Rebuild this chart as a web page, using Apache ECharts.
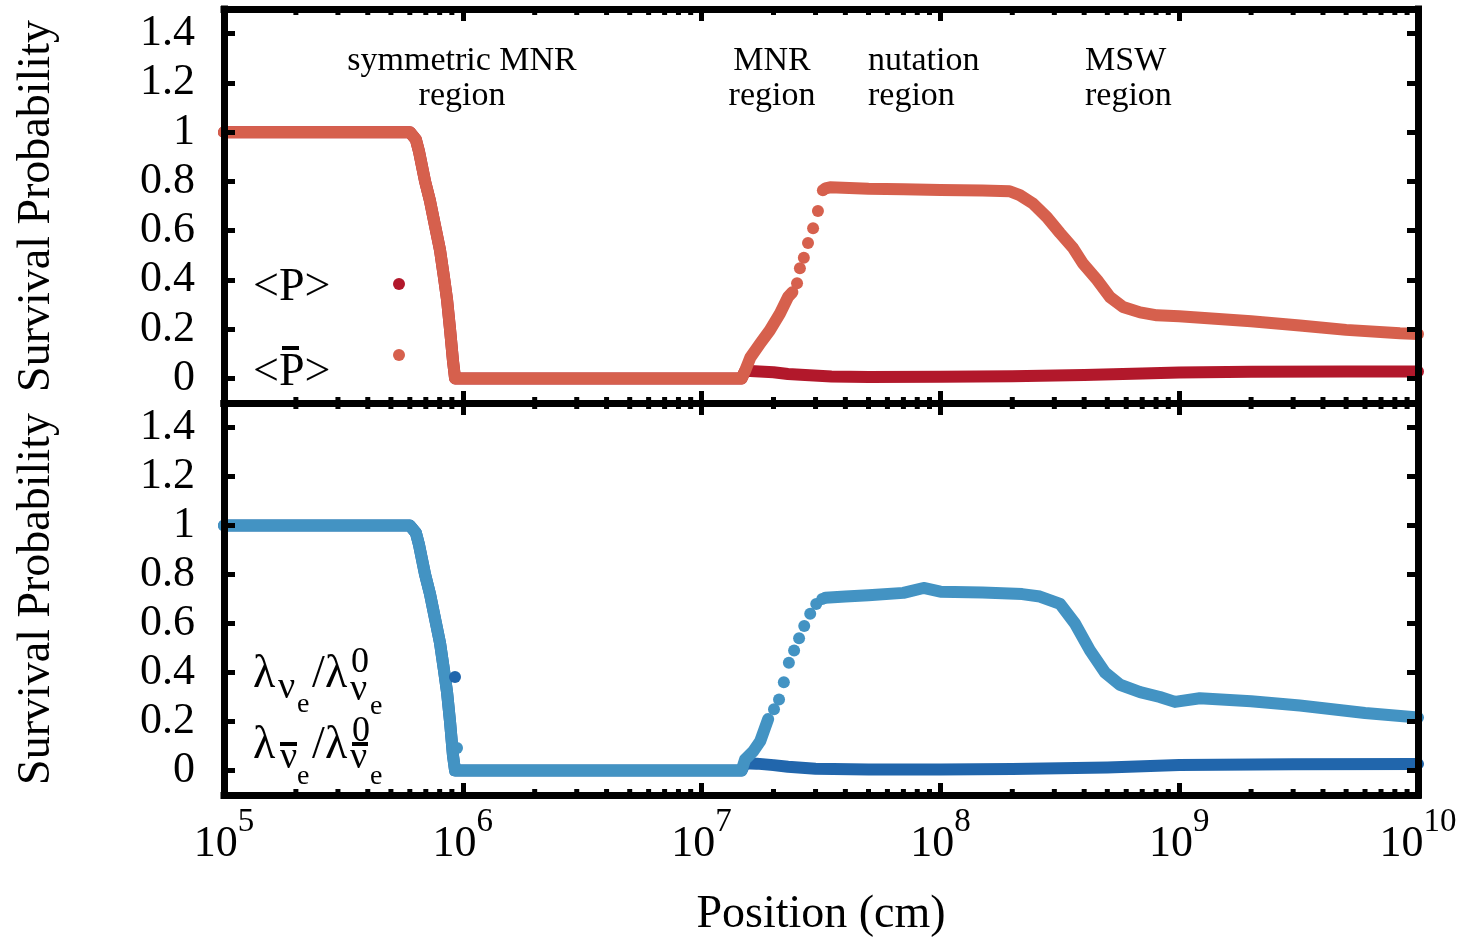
<!DOCTYPE html>
<html>
<head>
<meta charset="utf-8">
<script src="https://cdn.jsdelivr.net/npm/echarts@6/dist/echarts.min.js"></script>
<style>html,body{margin:0;padding:0;background:#fff}#c{width:1465px;height:937px}</style>
</head>
<body>
<div id="c"></div>
<script>
// ---------- data ----------
const xMajorTicks = [1e5, 1e6, 1e7, 1e8, 1e9, 1e10];
const yTicks = [0, 0.2, 0.4, 0.6, 0.8, 1.0, 1.2, 1.4];
const xMinorTicks = [];
for (let d = 5; d < 10; d++) for (let m = 2; m <= 9; m++) xMinorTicks.push(m * Math.pow(10, d));

// top panel: <P> (neutrino) and <P-bar> (antineutrino)
const pData = [[1e5,1],[6.0e5,1],[6.36e5,0.97],[6.56e5,0.92],[6.95e5,0.8],[7.29e5,0.72],[7.65e5,0.62],[8.03e5,0.52],[8.34e5,0.41],[8.59e5,0.32],[8.84e5,0.2],[9.1e5,0.07],[9.28e5,0],
  [1.47e7,0],[1.52e7,0.03],[1.6e7,0.03],[2.0e7,0.025],[2.3e7,0.018],[2.6e7,0.015],[3.5e7,0.008],[5e7,0.006],[1e8,0.007],[2e8,0.009],[4e8,0.014],[7e8,0.02],[1e9,0.024],[2e9,0.027],[5e9,0.028],[1e10,0.028]];
const pbarDenseA = [[1e5,1],[6.0e5,1],[6.36e5,0.97],[6.56e5,0.92],[6.95e5,0.8],[7.29e5,0.72],[7.65e5,0.62],[8.03e5,0.52],[8.34e5,0.41],[8.59e5,0.32],[8.84e5,0.2],[9.1e5,0.07],[9.28e5,0],
  [1.47e7,0],[1.52e7,0.03],[1.6e7,0.085],[1.76e7,0.142],[1.93e7,0.195],[2.13e7,0.264],[2.3e7,0.33],[2.4e7,0.35]];
const pbarSparse = [[2.51e7,0.386],[2.58e7,0.447],[2.68e7,0.49],[2.79e7,0.55],[2.93e7,0.61],[3.07e7,0.68],[3.22e7,0.764]];
const pbarDenseB = [[3.3e7,0.772],[3.45e7,0.776],[5e7,0.77],[7e7,0.768],[1e8,0.765],[1.5e8,0.763],[1.95e8,0.76],[2.15e8,0.744],[2.44e8,0.71],[2.79e8,0.655],[3.17e8,0.59],[3.59e8,0.53],[3.95e8,0.467],[4.53e8,0.40],[5.13e8,0.33],[5.82e8,0.29],[6.86e8,0.268],[8.07e8,0.256],[1e9,0.252],[2e9,0.232],[3.2e9,0.215],[5e9,0.197],[8.4e9,0.183],[1e10,0.18]];

// bottom panel: lambda_nu / lambda0 and lambda_nubar / lambda0
const lamData = [[1e5,1],[6.0e5,1],[6.36e5,0.97],[6.56e5,0.92],[6.95e5,0.8],[7.29e5,0.72],[7.65e5,0.62],[8.03e5,0.52],[8.34e5,0.41],[8.59e5,0.32],[8.84e5,0.2],[9.1e5,0.06],[9.28e5,0],
  [1.47e7,0],[1.52e7,0.03],[1.7e7,0.028],[2e7,0.022],[2.3e7,0.015],[3e7,0.007],[5e7,0.004],[1e8,0.004],[2e8,0.006],[5e8,0.012],[1e9,0.022],[3e9,0.026],[1e10,0.027]];
const lamBarDenseA = [[1e5,1],[6.0e5,1],[6.36e5,0.97],[6.56e5,0.92],[6.95e5,0.8],[7.29e5,0.72],[7.65e5,0.62],[8.03e5,0.52],[8.34e5,0.41],[8.59e5,0.32],[8.84e5,0.2],[9.1e5,0.06],[9.28e5,0],
  [1.47e7,0],[1.52e7,0.045],[1.65e7,0.08],[1.76e7,0.12],[1.9e7,0.21]];
const lamBarSparse = [[2.01e7,0.25],[2.11e7,0.29],[2.21e7,0.36],[2.32e7,0.44],[2.44e7,0.49],[2.56e7,0.54],[2.69e7,0.59],[2.85e7,0.64],[3.02e7,0.68],[3.2e7,0.70]];
const lamBarDenseB = [[3.3e7,0.705],[4e7,0.71],[5e7,0.715],[7e7,0.725],[8.5e7,0.745],[1e8,0.73],[1.5e8,0.727],[2.2e8,0.72],[2.61e8,0.71],[3.17e8,0.68],[3.66e8,0.6],[4.23e8,0.49],[4.89e8,0.40],[5.65e8,0.35],[6.86e8,0.32],[8.3e8,0.30],[9.6e8,0.28],[1.22e9,0.295],[2e9,0.283],[3.2e9,0.265],[6e9,0.235],[1e10,0.216]];

// ---------- style ----------
const FONT = 'Liberation Serif';
const C_P = '#b2182b', C_PB = '#d6604d', C_L = '#2166ac', C_LB = '#4393c3';
const LW = 12;

function xAxesFor(grid, labels) {
  const base = {type: 'log', logBase: 10, min: 1e5, max: 1e10, gridIndex: grid, z: 5,
    splitLine: {show: false}, minorTick: {show: false}};
  const line = {show: true, onZero: false, lineStyle: {color: '#000', width: 7, cap: 'square'}};
  const tick = {show: true, inside: true, length: 12, lineStyle: {color: '#000', width: 5}};
  const bottom = Object.assign({}, base, {position: 'bottom', axisLine: line, axisTick: tick,
    axisLabel: labels ? {
      show: true, margin: 11, fontFamily: FONT, color: '#000',
      formatter: v => '{b|10}{s|' + Math.round(Math.log10(v)) + '}',
      rich: {b: {fontSize: 44, fontFamily: FONT, lineHeight: 60, verticalAlign: 'bottom', color: '#000'},
             s: {fontSize: 33, fontFamily: FONT, lineHeight: 22, verticalAlign: 'top', color: '#000'}}
    } : {show: false}});
  if (labels) {
    bottom.name = 'Position (cm)';
    bottom.nameLocation = 'middle';
    bottom.nameGap = 97;
    bottom.nameTextStyle = {fontFamily: FONT, fontSize: 46, color: '#000'};
  }
  const top = Object.assign({}, base, {position: 'top', axisLine: line, axisTick: tick, axisLabel: {show: false}});
  return [bottom, top];
}
function yAxesFor(grid) {
  const base = {type: 'value', min: -0.1, max: 1.5, gridIndex: grid, z: 5, splitLine: {show: false},
    axisLine: {show: true, onZero: false, lineStyle: {color: '#000', width: 7, cap: 'square'}},
    axisTick: {show: true, inside: true, length: 11, customValues: yTicks, lineStyle: {color: '#000', width: 5}}};
  const left = Object.assign({}, base, {position: 'left',
    axisLabel: {show: true, customValues: yTicks, margin: 29, fontFamily: FONT, fontSize: 44, color: '#000',
      formatter: v => String(Math.round(v * 10) / 10)},
    name: 'Survival Probability', nameLocation: 'middle', nameRotate: 90, nameGap: 164,
    nameTextStyle: {fontFamily: FONT, fontSize: 46, color: '#000'}});
  const right = Object.assign({}, base, {position: 'right', axisLabel: {show: false}});
  return [left, right];
}

function lineSeries(name, data, color, xi, yi) {
  return {name, type: 'line', data, xAxisIndex: xi, yAxisIndex: yi, symbol: 'none', clip: false,
    lineStyle: {color, width: LW, cap: 'round', join: 'round', opacity: 1}, z: 2, silent: true};
}
function dotSeries(name, data, color, xi, yi) {
  return {name, type: 'scatter', data, xAxisIndex: xi, yAxisIndex: yi, symbol: 'circle', symbolSize: 12, clip: false,
    itemStyle: {color, opacity: 1}, z: 2, silent: true};
}
function minorTickSeries(xi, yi) {
  return {type: 'custom', xAxisIndex: xi, yAxisIndex: yi, clip: false, z: 6, silent: true,
    data: xMinorTicks.map(v => [v, 0]),
    renderItem: (params, api) => {
      const x = api.value(0);
      const b = api.coord([x, -0.1]);
      const t = api.coord([x, 1.5]);
      return {type: 'group', children: [
        {type: 'line', shape: {x1: b[0], y1: b[1], x2: b[0], y2: b[1] - 6}, style: {stroke: '#000', lineWidth: 5}},
        {type: 'line', shape: {x1: t[0], y1: t[1], x2: t[0], y2: t[1] + 6}, style: {stroke: '#000', lineWidth: 5}}
      ]};
    }};
}

function txt(x, y, text, size, align, extra) {
  return Object.assign({type: 'text', x, y, z: 100,
    style: {text, font: size + 'px "' + FONT + '"', fill: '#000', align: align || 'left', verticalAlign: 'middle'}}, extra || {});
}
function bar(x1, x2, y) {
  return {type: 'rect', z: 100, shape: {x: x1, y: y, width: x2 - x1, height: 4}, style: {fill: '#000'}};
}
function dot(x, y, color) {
  return {type: 'circle', z: 100, shape: {cx: x, cy: y, r: 6}, style: {fill: color}};
}

const graphics = [
  // region annotations
  txt(462, 61, 'symmetric MNR', 34, 'center'), txt(462, 96, 'region', 34, 'center'),
  txt(772, 61, 'MNR', 34, 'center'), txt(772, 96, 'region', 34, 'center'),
  txt(868, 61, 'nutation', 34, 'left'), txt(868, 96, 'region', 34, 'left'),
  txt(1085, 61, 'MSW', 34, 'left'), txt(1085, 96, 'region', 34, 'left'),
  // top legend
  txt(253, 288, '<P>', 46), dot(399, 284, C_P),
  txt(253, 373, '<P>', 46), bar(282, 299, 346), dot(399, 355, C_PB),
  // bottom legend line 1
  txt(253, 675, 'λ', 46), txt(278, 688, 'ν', 38), txt(297, 705, 'e', 28),
  txt(312, 675, '/', 46), txt(325, 675, 'λ', 46), txt(351, 663, '0', 36), txt(350, 690, 'ν', 38), txt(370, 707, 'e', 28),
  dot(455, 677, C_L),
  // bottom legend line 2
  txt(253, 746, 'λ', 46), bar(280, 297, 742), txt(280, 758, 'ν', 38), txt(297, 777, 'e', 28),
  txt(312, 746, '/', 46), txt(325, 746, 'λ', 46), txt(352, 732, '0', 36), bar(352, 368, 742), txt(350, 758, 'ν', 38), txt(370, 777, 'e', 28),
  dot(457, 748, C_LB)
];

const xa0 = xAxesFor(0, false), xa1 = xAxesFor(1, true);
const ya0 = yAxesFor(0), ya1 = yAxesFor(1);

const option = {
  animation: false,
  backgroundColor: '#fff',
  grid: [
    {left: 224, top: 9, width: 1194, height: 394, containLabel: false, outerBoundsMode: 'none'},
    {left: 224, top: 403, width: 1194, height: 392, containLabel: false, outerBoundsMode: 'none'}
  ],
  xAxis: [xa0[0], xa0[1], xa1[0], xa1[1]],
  yAxis: [ya0[0], ya0[1], ya1[0], ya1[1]],
  series: [
    lineSeries('<P>', pData, C_P, 0, 0),
    lineSeries('<Pbar>', pbarDenseA, C_PB, 0, 0),
    dotSeries('<Pbar>', pbarSparse, C_PB, 0, 0),
    lineSeries('<Pbar>', pbarDenseB, C_PB, 0, 0),
    minorTickSeries(0, 0),
    lineSeries('lambda', lamData, C_L, 2, 2),
    lineSeries('lambdabar', lamBarDenseA, C_LB, 2, 2),
    dotSeries('lambdabar', lamBarSparse, C_LB, 2, 2),
    lineSeries('lambdabar', lamBarDenseB, C_LB, 2, 2),
    minorTickSeries(2, 2)
  ],
  graphic: {elements: graphics}
};
const chart = echarts.init(document.getElementById('c'), null, {renderer: 'canvas'});
chart.setOption(option);
</script>
</body>
</html>
